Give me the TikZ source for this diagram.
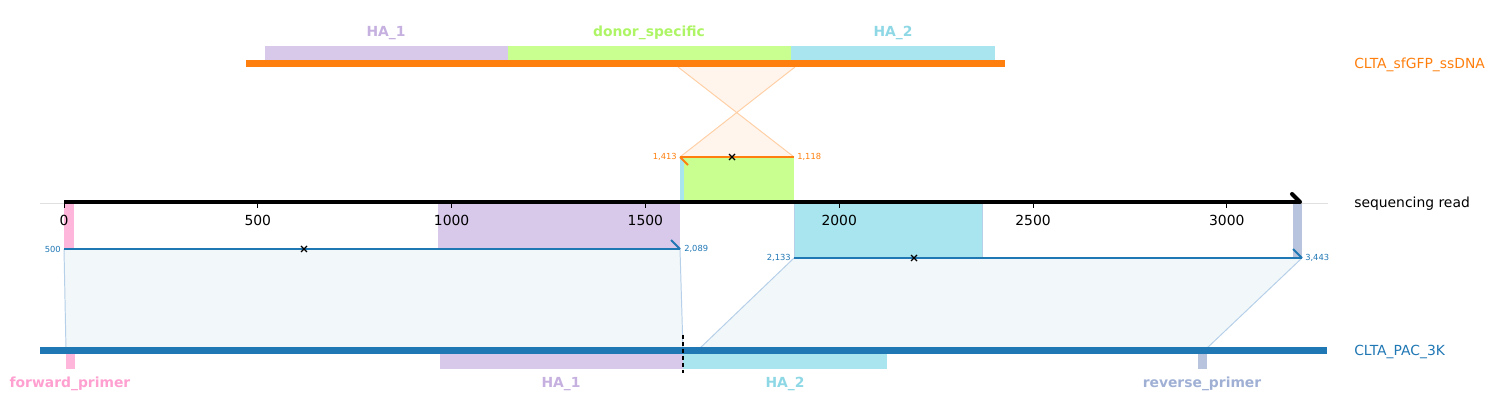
\documentclass[tikz,border=0pt]{standalone}
\usepackage{fontspec}
\setmainfont{DejaVu Sans}
\usetikzlibrary{calc}
\definecolor{refOrange}{HTML}{FF7F0E}
\definecolor{refBlue}{HTML}{1F77B4}
\definecolor{haOne}{HTML}{D8C8EA}
\definecolor{haOneText}{HTML}{C5B0E0}
\definecolor{haTwo}{HTML}{A8E5EE}
\definecolor{haTwoText}{HTML}{8ED8E6}
\definecolor{donor}{HTML}{C8FF90}
\definecolor{donorText}{HTML}{ADF565}
\definecolor{fwdPrimer}{HTML}{FFB6DB}
\definecolor{fwdText}{HTML}{FFA0D0}
\definecolor{revPrimer}{HTML}{B8C4DD}
\definecolor{revText}{HTML}{A0B0D5}
\definecolor{alnFill}{HTML}{F2F7FA}
\definecolor{alnEdge}{HTML}{B5D0E8}
\definecolor{invFill}{HTML}{FFF5EC}
\definecolor{invEdge}{HTML}{FFCFA5}
\tikzset{
  every node/.style={font=\fontsize{10}{12}\selectfont, inner sep=0pt},
  featlabel/.style={font=\fontsize{10}{12}\selectfont\bfseries},
  poslabel/.style={font=\fontsize{6}{7}\selectfont},
  trackname/.style={anchor=west, font=\fontsize{10}{12}\selectfont},
  alnline/.style={draw=refBlue, line width=1.4pt},
  invline/.style={draw=refOrange, line width=1.4pt},
  xmark/.style={draw=black, line width=0.8pt},
  readaxis/.style={draw=black, line width=2.9pt},
}

\begin{document}
\begin{tikzpicture}[x=0.72pt,y=-0.72pt]
  \useasboundingbox (0,0) rectangle (1497,415);

  % alignment bands
  \coordinate (a1s) at (64,249);  \coordinate (a1e) at (680,249);
  \coordinate (r1s) at (66,350);  \coordinate (r1e) at (683,350);
  \coordinate (a2s) at (794,258); \coordinate (a2e) at (1302,258);
  \coordinate (r2s) at (698,350); \coordinate (r2e) at (1205,350);
  \coordinate (ds) at (680,157);  \coordinate (de) at (794,157);
  \coordinate (dl) at (678,67);   \coordinate (dr) at (795,67);
  \fill[alnFill] (a1s)--(a1e)--(r1e)--(r1s)--cycle;
  \draw[alnEdge, line width=0.7pt] (a1s)--(r1s) (a1e)--(r1e);
  \fill[alnFill] (a2s)--(a2e)--(r2e)--(r2s)--cycle;
  \draw[alnEdge, line width=0.7pt] (a2s)--(r2s) (a2e)--(r2e);
  \fill[invFill] (dl)--(dr)--(ds)--(de)--cycle;
  \draw[invEdge, line width=0.7pt] (dl)--(de) (dr)--(ds);

  % donor track
  \fill[refOrange] (246,60) rectangle (1005,67);
  \fill[haOne] (265,46) rectangle (508,60);
  \fill[donor] (508,46) rectangle (791,60);
  \fill[haTwo] (791,46) rectangle (995,60);
  \node[featlabel, text=haOneText] (tHA1) at (386,33) {HA\_1};
  \node[featlabel, text=donorText] (tDonor) at (649,33) {donor\_specific};
  \node[featlabel, text=haTwoText] (tHA2) at (893,33) {HA\_2};
  \node[trackname, text=refOrange] (donorName) at (1354,65) {CLTA\_sfGFP\_ssDNA};

  % read features
  \fill[fwdPrimer] (64,203) rectangle (74,249);
  \fill[haOne] (438,203) rectangle (680,249);
  \fill[haTwo] (680,157) rectangle (684,202);
  \fill[donor] (684,157) rectangle (794,202);
  \fill[haTwo] (794,203) rectangle (982,258);
  \draw[alnEdge, line width=0.5pt] (794,203)--(794,258) (982,203)--(982,258);
  \fill[revPrimer] (1293,203) rectangle (1302,258);

  % read axis
  \draw[black!12, line width=0.6pt] (40,203)--(1328,203);
  \draw[readaxis] (64,202)--(1300,202);
  \draw[black, line width=2.9pt, line cap=round] (1300,202)--(1292,194);
  \foreach \t [count=\i from 0] in {0,500,1000,1500,2000,2500,3000}{
    \draw[black, line width=0.6pt] ({64+\i*193.8},203)--({64+\i*193.8},208);
    \node (tick\i) at ({64+\i*193.8},220) {\t};
  }
  \node[trackname, text=black] (readName) at (1354,204) {sequencing read};

  % alignment lines
  \draw[alnline] (a1s)--(a1e);
  \draw[alnline] (a1e)--++(-9,-9);
  \node[poslabel, anchor=east, text=refBlue] (a1sl) at (61,249) {500};
  \node[poslabel, anchor=west, text=refBlue] (a1el) at (684,249) {2,089};
  \draw[xmark] (301,246)--(307,252) (301,252)--(307,246);

  \draw[alnline] (a2s)--(a2e);
  \draw[alnline] (a2e)--++(-9,-9);
  \node[poslabel, anchor=east, text=refBlue] (a2sl) at (791,258) {2,133};
  \node[poslabel, anchor=west, text=refBlue] (a2el) at (1305,258) {3,443};
  \draw[xmark] (911,255)--(917,261) (911,261)--(917,255);

  \draw[invline] (ds)--(de);
  \draw[invline] (ds)--++(8,8);
  \node[poslabel, anchor=east, text=refOrange] (dsl) at (677,157) {1,413};
  \node[poslabel, anchor=west, text=refOrange] (del) at (797,157) {1,118};
  \draw[xmark] (729,154)--(735,160) (729,160)--(735,154);

  % reference track
  \fill[refBlue] (40,347) rectangle (1327,354);
  \fill[fwdPrimer] (66,354) rectangle (75,369);
  \fill[haOne] (440,354) rectangle (683,369);
  \fill[haTwo] (683,354) rectangle (887,369);
  \fill[revPrimer] (1198,354) rectangle (1207,369);
  \draw[black, line width=0.8pt, dash pattern=on 3pt off 2pt] (683,335)--(683,373);
  \node[featlabel, text=fwdText] (bFwd) at (70,384) {forward\_primer};
  \node[featlabel, text=haOneText] (bHA1) at (561,384) {HA\_1};
  \node[featlabel, text=haTwoText] (bHA2) at (785,384) {HA\_2};
  \node[featlabel, text=revText] (bRev) at (1202,384) {reverse\_primer};
  \node[trackname, text=refBlue] (refName) at (1354,352) {CLTA\_PAC\_3K};
\end{tikzpicture}
\end{document}
